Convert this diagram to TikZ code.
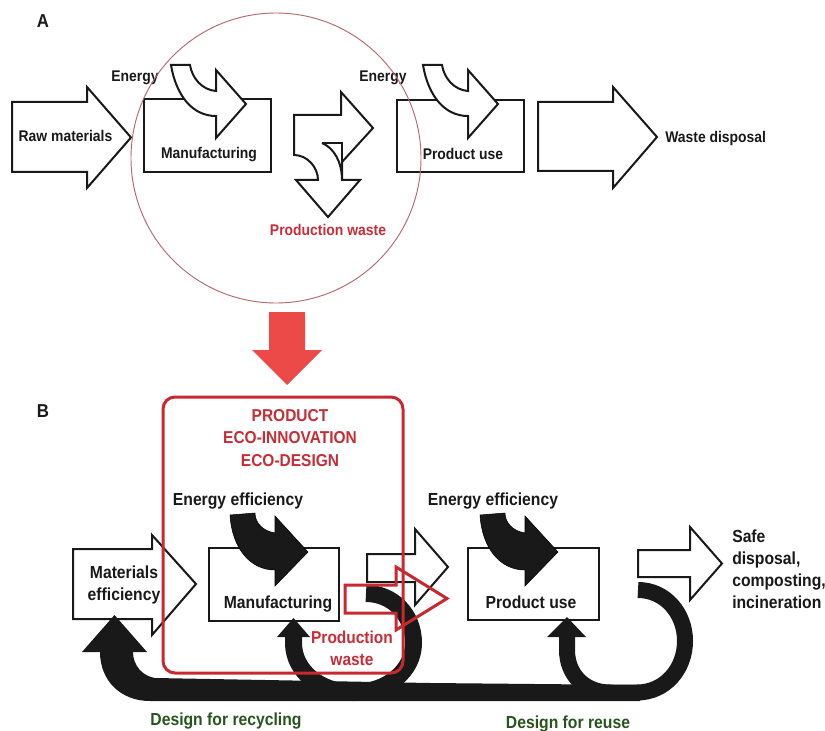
\documentclass[tikz,border=0pt]{standalone}
\usepackage{fontspec}
\setmainfont{Liberation Sans}[FakeStretch=0.9]
\definecolor{ink}{RGB}{25,25,25}
\definecolor{txtred}{RGB}{200,45,55}
\definecolor{boxred}{RGB}{200,40,48}
\definecolor{ringred}{RGB}{180,105,110}
\definecolor{bigred}{RGB}{236,74,72}
\definecolor{dgreen}{RGB}{40,85,30}
\begin{document}
\begin{tikzpicture}[x=0.75pt,y=-0.75pt,
  wshape/.style={draw=ink, line width=1.5pt, fill=white, line join=miter},
  bshape/.style={fill=ink},
  band/.style={draw=ink, line cap=butt},
  wbox/.style={draw=ink, line width=1.5pt, fill=white, inner sep=0pt},
  lblA/.style={font=\bfseries\fontsize{11.6}{13}\selectfont, text=ink, inner sep=0pt, anchor=base},
  lblB/.style={font=\bfseries\fontsize{13.1}{15}\selectfont, text=ink, inner sep=0pt, anchor=base},
  redlbl/.style={font=\bfseries\fontsize{12.9}{15}\selectfont, text=txtred, inner sep=0pt, anchor=base},
  greenlbl/.style={font=\bfseries\fontsize{13.1}{15}\selectfont, text=dgreen, inner sep=0pt, anchor=base},
  panel/.style={font=\bfseries\fontsize{14}{16}\selectfont, text=ink, inner sep=0pt, anchor=base}]
\useasboundingbox (0,0) rectangle (825,731);
\fill[white] (0,0) rectangle (825,731);

% ---------------- Panel A: linear flow ----------------
\node[panel] (labA) at (43,28) {A};

% raw materials
\draw[wshape] (12,102) -- (87,102) -- (87,87) -- (131,137.5) -- (87,188) -- (87,172) -- (12,172) -- cycle;
\node[lblA] (raw) at (65.5,142) {Raw materials};

% manufacturing with energy input
\node[wbox, minimum width={127*0.75pt}, minimum height={73*0.75pt}] (manA) at (207.5,135.5) {};
\draw[wshape] (171,65) .. controls (176,95) and (192,116) .. (216,116) -- (216,138) -- (246,104)
  -- (216,70) -- (216,91) .. controls (202,90) and (192,78) .. (190,65) -- cycle;
\node[lblA] (enA1) at (135,82) {Energy};
\node[lblA] (manAt) at (209,159) {Manufacturing};

% split arrow: onward flow and production waste
\draw[wshape] (294,115) -- (341,115) -- (341,92) -- (373,128) -- (342,162) -- (342,180) -- (360,180)
  -- (328,217) -- (296,180) -- (318,180) .. controls (318,167) and (307,155) .. (294,155) -- cycle;
\draw[draw=ink, line width=1.5pt] (322,143) -- (342,143) -- (342,162);
\draw[draw=ink, line width=1.5pt] (322,143) .. controls (334,148) and (342,162) .. (342,180);
\node[redlbl, font=\bfseries\fontsize{11.6}{13}\selectfont] (pwA) at (328,236) {Production waste};

% product use with energy input
\node[wbox, minimum width={127*0.75pt}, minimum height={72*0.75pt}] (useA) at (460.5,136) {};
\begin{scope}[xshift=252*0.75pt]
\draw[wshape] (171,65) .. controls (176,95) and (192,116) .. (216,116) -- (216,138) -- (246,104)
  -- (216,70) -- (216,91) .. controls (202,90) and (192,78) .. (190,65) -- cycle;
\end{scope}
\node[lblA] (enA2) at (383,82) {Energy};
\node[lblA] (useAt) at (463,160) {Product use};

% waste disposal
\draw[wshape] (538,102) -- (613,102) -- (613,87) -- (657,137) -- (613,188) -- (613,171) -- (538,171) -- cycle;
\node[lblA, anchor=base west] (wd) at (665,143) {Waste disposal};

% focus ring
\draw[ringred, line width=0.7pt] (276,158) circle[radius=145];

% transition arrow
\fill[bigred] (269,312) -- (305,312) -- (305,350) -- (322,350) -- (287,385) -- (252,350) -- (269,350) -- cycle;

% ---------------- Panel B: circular flow ----------------
\node[panel] (labB) at (43,417) {B};

% white flow arrows
\draw[wshape] (73,549) -- (152,549) -- (152,535) -- (196,584) -- (152,635) -- (152,619) -- (73,619) -- cycle;
\draw[wshape] (367,554) -- (415,554) -- (415,529) -- (448,567) -- (415,605) -- (415,582) -- (367,582) -- cycle;
\draw[wshape] (638,550) -- (690,550) -- (690,527) -- (722,563.5) -- (690,600) -- (690,577) -- (638,577) -- cycle;

% process boxes
\node[wbox, minimum width={130*0.75pt}, minimum height={73*0.75pt}] (manB) at (274,584.5) {};
\node[wbox, minimum width={131*0.75pt}, minimum height={72*0.75pt}] (useB) at (533.5,584) {};

% energy efficiency inputs
\draw[bshape] (230,515) .. controls (232,548) and (250,570) .. (275,570) -- (275,586) -- (308,552)
  -- (275,516) -- (275,533) .. controls (262,531) and (255,522) .. (255,513) -- cycle;
\begin{scope}[xshift=250*0.75pt]
\draw[bshape] (230,515) .. controls (232,548) and (250,570) .. (275,570) -- (275,586) -- (308,552)
  -- (275,516) -- (275,533) .. controls (262,531) and (255,522) .. (255,513) -- cycle;
\end{scope}

% design for recycling: long return band
\fill[ink] (100,652) .. controls (100,680) and (120,701) .. (150,701) -- (640,701) -- (640,685)
  -- (430,683) -- (155,678) .. controls (142,676) and (133,665) .. (133,652) -- cycle;
\fill[ink] (82,652) -- (147,652) -- (114.5,615) -- cycle;

% production waste loop back into manufacturing
\draw[band, line width={17*0.75pt}] (366,593.5) .. controls (393,593.5) and (413.5,615) .. (413.5,643)
  .. controls (413.5,671) and (387,692.5) .. (353.5,692.5)
  .. controls (320,692.5) and (293.5,671) .. (293.5,643) -- (293.5,636);
\fill[ink] (277,637) -- (310,637) -- (293.5,618) -- cycle;

% design for reuse loop back into product use
\draw[band, line width={16*0.75pt}] (638,590) .. controls (665,590) and (685,613) .. (685,641)
  .. controls (685,669) and (665,692.5) .. (637,692.5) -- (610,692.5)
  .. controls (585,692.5) and (567,675) .. (567,650) -- (567,636);
\fill[ink] (547,637) -- (586,637) -- (567,617) -- cycle;

% eco-design frame and production waste arrow
\draw[boxred, line width=2.25pt, rounded corners=9pt] (163,397) rectangle (403,673);
\draw[boxred, line width=2.25pt, line join=miter] (345,585) -- (396,585) -- (396,567) -- (447,598.5)
  -- (396,630) -- (396,613) -- (345,613) -- cycle;

% labels
\node[redlbl] (eco1) at (290,421) {PRODUCT};
\node[redlbl] (eco2) at (290,443) {ECO-INNOVATION};
\node[redlbl] (eco3) at (290,466) {ECO-DESIGN};
\node[lblB] (enB1) at (238,505) {Energy efficiency};
\node[lblB] (enB2) at (493,505) {Energy efficiency};
\node[lblB] (mat1) at (124,578) {Materials};
\node[lblB] (mat2) at (124,600) {efficiency};
\node[lblB] (manBt) at (278,608) {Manufacturing};
\node[lblB] (useBt) at (531,608) {Product use};
\node[redlbl] (pw1) at (352,643) {Production};
\node[redlbl] (pw2) at (352,665) {waste};
\node[lblB, anchor=base west] (sd1) at (732,542) {Safe};
\node[lblB, anchor=base west] (sd2) at (732,564) {disposal,};
\node[lblB, anchor=base west] (sd3) at (732,586) {composting,};
\node[lblB, anchor=base west] (sd4) at (732,608) {incineration};
\node[greenlbl] (rec) at (226,725) {Design for recycling};
\node[greenlbl] (reu) at (568,728) {Design for reuse};
\end{tikzpicture}
\end{document}
